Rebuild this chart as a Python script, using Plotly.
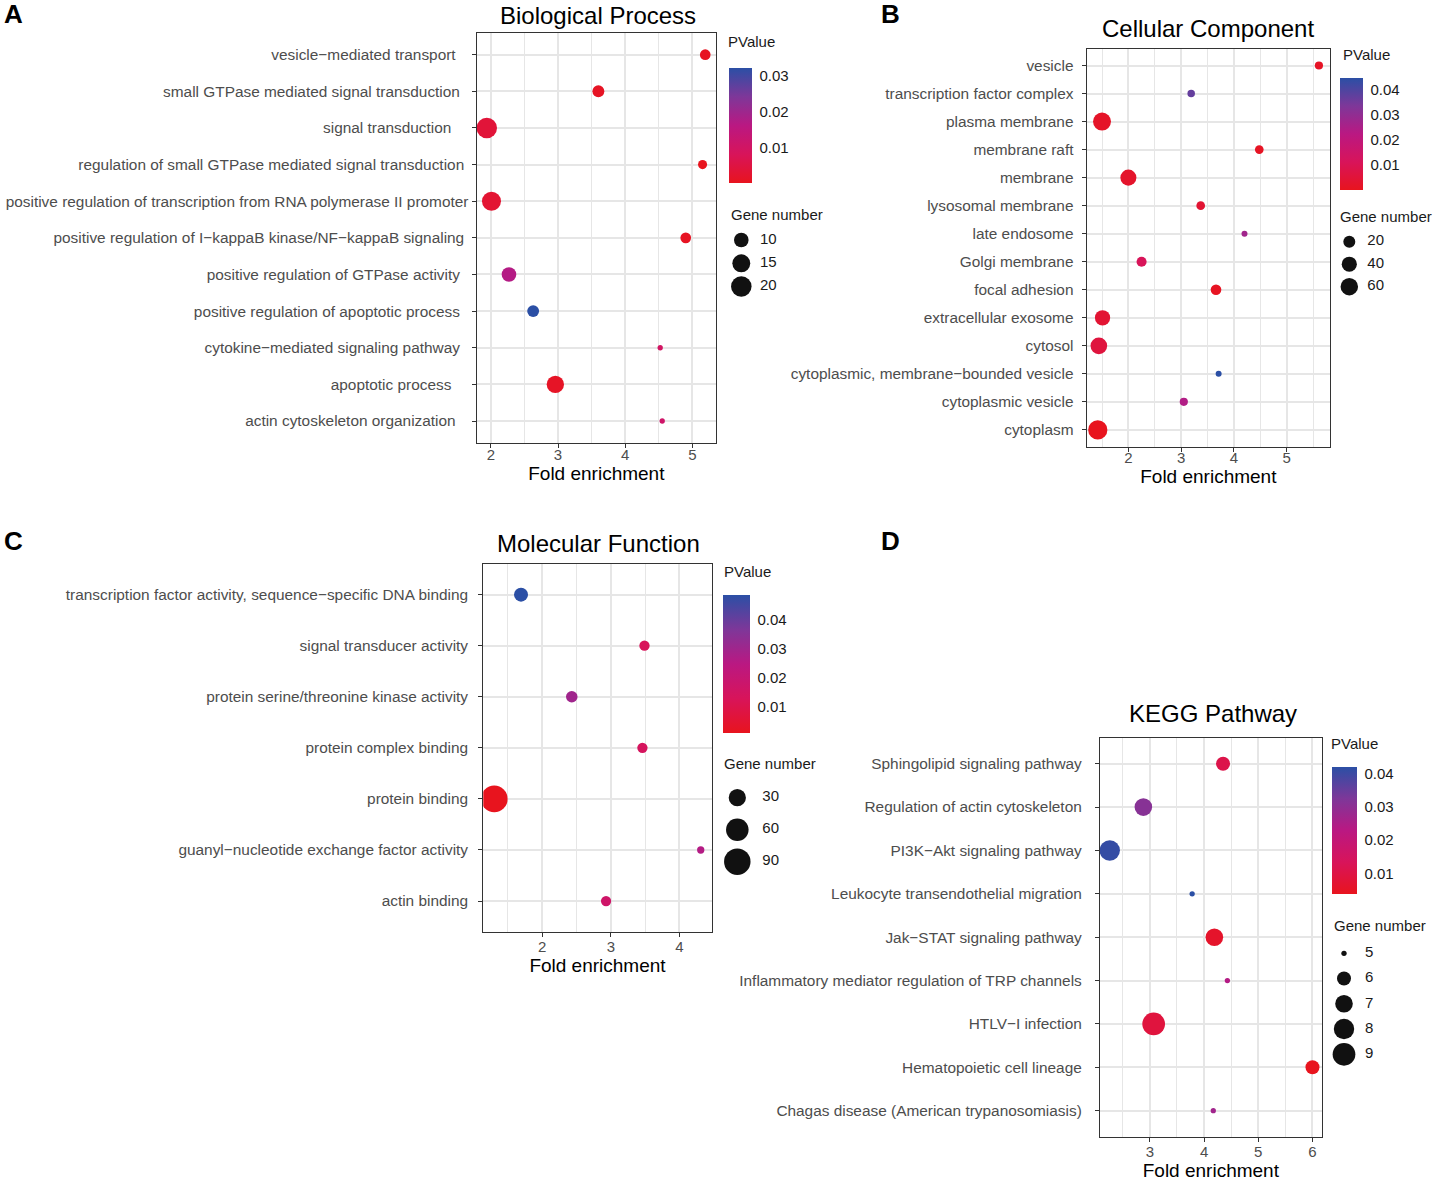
import numpy as np
import plotly.graph_objects as go

W, H = 1437, 1183
FONT = "Liberation Sans, Arial, Helvetica, sans-serif"

# ---------------- data ----------------
bp_terms = ["vesicle−mediated transport",
            "small GTPase mediated signal transduction",
            "signal transduction",
            "regulation of small GTPase mediated signal transduction",
            "positive regulation of transcription from RNA polymerase II promoter",
            "positive regulation of I−kappaB kinase/NF−kappaB signaling",
            "positive regulation of GTPase activity",
            "positive regulation of apoptotic process",
            "cytokine−mediated signaling pathway",
            "apoptotic process",
            "actin cytoskeleton organization"]
bp_fold = [5.19, 3.60, 1.94, 5.15, 2.01, 4.90, 2.27, 2.63, 4.52, 2.96, 4.55]
bp_genes = [6, 7, 20, 5, 17, 6, 10, 7, 4, 14, 4]
bp_pval = [0.0008, 0.0012, 0.004, 0.0004, 0.003, 0.001, 0.017, 0.0321, 0.010, 0.0015, 0.011]
bp_size_breaks = [10, 15, 20]
bp_color_ticks = [0.01, 0.02, 0.03]

cc_terms = ["vesicle", "transcription factor complex", "plasma membrane", "membrane raft",
            "membrane", "lysosomal membrane", "late endosome", "Golgi membrane",
            "focal adhesion", "extracellular exosome", "cytosol",
            "cytoplasmic, membrane−bounded vesicle", "cytoplasmic vesicle", "cytoplasm"]
cc_fold = [5.61, 3.19, 1.50, 4.48, 2.00, 3.37, 4.20, 2.25, 3.66, 1.51, 1.44, 3.71, 3.05, 1.42]
cc_genes = [7, 6, 65, 8, 47, 8, 5, 12, 14, 41, 53, 5, 7, 78]
cc_pval = [0.0015, 0.037, 0.002, 0.0012, 0.0025, 0.004, 0.027, 0.011, 0.001, 0.004,
           0.006, 0.0447, 0.024, 0.00005]
cc_size_breaks = [20, 40, 60]
cc_color_ticks = [0.01, 0.02, 0.03, 0.04]

mf_terms = ["transcription factor activity, sequence−specific DNA binding",
            "signal transducer activity",
            "protein serine/threonine kinase activity",
            "protein complex binding",
            "protein binding",
            "guanyl−nucleotide exchange factor activity",
            "actin binding"]
mf_fold = [1.69, 3.49, 2.43, 3.46, 1.30, 4.31, 2.93]
mf_genes = [18, 10, 12, 10, 92, 8, 10]
mf_pval = [0.0486, 0.013, 0.030, 0.014, 0.0011, 0.026, 0.017]
mf_size_breaks = [30, 60, 90]
mf_color_ticks = [0.01, 0.02, 0.03, 0.04]

kegg_terms = ["Sphingolipid signaling pathway",
              "Regulation of actin cytoskeleton",
              "PI3K−Akt signaling pathway",
              "Leukocyte transendothelial migration",
              "Jak−STAT signaling pathway",
              "Inflammatory mediator regulation of TRP channels",
              "HTLV−I infection",
              "Hematopoietic cell lineage",
              "Chagas disease (American trypanosomiasis)"]
kegg_fold = [4.35, 2.88, 2.26, 3.78, 4.19, 4.43, 3.07, 6.00, 4.17]
kegg_genes = [6, 7, 8, 5, 7, 5, 9, 6, 5]
kegg_pval = [0.011, 0.031, 0.041, 0.042, 0.006, 0.024, 0.009, 0.004, 0.027]
kegg_size_breaks = [5, 6, 7, 8, 9]
kegg_color_ticks = [0.01, 0.02, 0.03, 0.04]

# ---------------- helpers ----------------
def fx(px):
    return px / W

def fy(py):
    return 1 - py / H

def size_px(v, lo, hi, dmin, dmax):
    v = np.asarray(v, float)
    return dmin + (dmax - dmin) * np.sqrt(np.clip((v - lo) / (hi - lo), 0, 1))

colorscale = [[0.0, "#E8141E"], [0.25, "#D8145A"], [0.5, "#BA1882"],
              [0.75, "#7E3799"], [1.0, "#2B4FA5"]]

GRID = "#E6E6E6"

panels = [
    dict(letter="A", letter_xy=(2, 14), title="Biological Process", terms=bp_terms,
         pad=[3, 2, 4, 1, 0, 1, 2, 2, 2, 4, 3],
         fold=bp_fold, genes=bp_genes, pval=bp_pval, breaks=bp_size_breaks, cticks=bp_color_ticks,
         box=(476.7, 716, 32.7, 443), xr=(1.79, 5.35), dmin=5.3, dmax=20.5, title_xy=(598.3, 15.7),
         cbar=(729.3, 68, 115, 23), pv_xy=(726, 41.7), gn_xy=(729.3, 215),
         leg=(741.3, 760, 240, 23.3), standoff=0, xstand=-6, tstand=1),
    dict(letter="B", letter_xy=(879, 14), title="Cellular Component", terms=cc_terms,
         pad=[0] * len(cc_terms),
         fold=cc_fold, genes=cc_genes, pval=cc_pval, breaks=cc_size_breaks, cticks=cc_color_ticks,
         box=(1086.7, 1330, 48.7, 446.7), xr=(1.21, 5.82), dmin=6, dmax=19.2, title_xy=(1208.3, 28.3),
         cbar=(1340, 77.7, 112.3, 22.7), pv_xy=(1341, 54.3), gn_xy=(1338.3, 216.7),
         leg=(1349.3, 1367.3, 241.7, 22.5), standoff=5, xstand=-7, tstand=2),
    dict(letter="C", letter_xy=(2, 541), title="Molecular Function", terms=mf_terms,
         pad=[0] * len(mf_terms),
         fold=mf_fold, genes=mf_genes, pval=mf_pval, breaks=mf_size_breaks, cticks=mf_color_ticks,
         box=(483.3, 711.7, 564, 931.7), xr=(1.14, 4.47), dmin=7.3, dmax=26.7, title_xy=(598.3, 543.3),
         cbar=(723.3, 595, 138.3, 27), pv_xy=(722.3, 571.7), gn_xy=(721.7, 764),
         leg=(737.3, 762.3, 797.7, 32), standoff=7, xstand=-3, tstand=1),
    dict(letter="D", letter_xy=(879, 541), title="KEGG Pathway", terms=kegg_terms,
         pad=[0] * len(kegg_terms),
         fold=kegg_fold, genes=kegg_genes, pval=kegg_pval, breaks=kegg_size_breaks, cticks=kegg_color_ticks,
         box=(1100, 1321.7, 737.7, 1136.7), xr=(2.08, 6.17), dmin=5.3, dmax=22.7, title_xy=(1213, 713.3),
         cbar=(1331.7, 766.7, 126.7, 25), pv_xy=(1329.3, 743.3), gn_xy=(1331.7, 925),
         leg=(1344, 1365, 953.3, 25.25), standoff=10, xstand=-3, tstand=4),
]

fig = go.Figure()
layout = dict(width=W, height=H, margin=dict(l=0, r=0, t=0, b=0),
              paper_bgcolor="white", plot_bgcolor="rgba(0,0,0,0)", showlegend=False,
              font=dict(family=FONT, color="#1A1A1A"))
annotations = []

for i, p in enumerate(panels):
    k = i + 1
    sfx = "" if k == 1 else str(k)
    lk = k + 4
    labels = [t + "\u00a0" * n for t, n in zip(p["terms"], p["pad"])]
    lo, hi = min(p["genes"]), max(p["genes"])
    n = len(labels)
    x0, x1, y0, y1 = p["box"]

    fig.add_trace(go.Scatter(
        x=p["fold"], y=labels, mode="markers",
        marker=dict(size=size_px(p["genes"], lo, hi, p["dmin"], p["dmax"]),
                    color=p["pval"], coloraxis="coloraxis" + sfx,
                    line=dict(width=0), opacity=1),
        xaxis="x" + sfx, yaxis="y" + sfx, cliponaxis=True, hoverinfo="x+y"))

    layout["xaxis" + sfx] = dict(
        domain=[fx(x0), fx(x1)], range=list(p["xr"]), anchor="y" + sfx,
        showline=True, mirror=True, linecolor="#333333", linewidth=1.3,
        ticks="outside", ticklen=4, tickcolor="#333333", tickwidth=1,
        ticklabelstandoff=p["xstand"],
        tick0=0, dtick=1, tickfont=dict(size=15, color="#4D4D4D", family=FONT),
        showgrid=True, gridcolor=GRID, gridwidth=2, zeroline=False,
        minor=dict(dtick=0.5, showgrid=True, gridcolor=GRID, gridwidth=1.2, ticks=""),
        title=dict(text="Fold enrichment", font=dict(size=19, color="#000000", family=FONT),
                   standoff=p["tstand"]),
        fixedrange=True)
    layout["yaxis" + sfx] = dict(
        domain=[fy(y1), fy(y0)], type="category", categoryorder="array",
        categoryarray=labels, range=[n - 0.4, -0.6], anchor="x" + sfx,
        showline=True, mirror=True, linecolor="#333333", linewidth=1.3,
        ticks="outside", ticklen=4, tickcolor="#333333", tickwidth=1,
        ticklabelstandoff=p["standoff"],
        tickfont=dict(size=15.4, color="#4D4D4D", family=FONT),
        showgrid=True, gridcolor=GRID, gridwidth=2, zeroline=False,
        fixedrange=True)

    cx, ctop, clen, cthick = p["cbar"]
    layout["coloraxis" + sfx] = dict(
        colorscale=colorscale,
        colorbar=dict(x=fx(cx), xanchor="left", y=fy(ctop), yanchor="top",
                      len=clen, lenmode="pixels", thickness=cthick, thicknessmode="pixels",
                      xpad=0, ypad=0, outlinewidth=0, tickvals=p["cticks"], tickformat=".2f",
                      ticks="outside", ticklen=5, tickcolor="rgba(255,255,255,0)", tickwidth=1,
                      tickfont=dict(size=15, color="#1A1A1A", family=FONT)))

    # size legend on its own hidden axes
    lcx, llx, ly0, ldy = p["leg"]
    nb = len(p["breaks"])
    u = llx - lcx
    layout["xaxis%d" % lk] = dict(domain=[fx(lcx - 20), fx(llx + 40)],
                                  range=[-20 / u, (llx + 40 - lcx) / u], anchor="y%d" % lk,
                                  visible=False, fixedrange=True)
    top, bot = ly0 - 20, ly0 + (nb - 1) * ldy + 20
    layout["yaxis%d" % lk] = dict(domain=[fy(bot), fy(top)],
                                  range=[(nb - 1) + 20 / ldy, -20 / ldy], anchor="x%d" % lk,
                                  visible=False, fixedrange=True)
    fig.add_trace(go.Scatter(
        x=[0] * nb, y=list(range(nb)), mode="markers",
        marker=dict(size=size_px(p["breaks"], lo, hi, p["dmin"], p["dmax"]), color="#111111",
                    line=dict(width=0), opacity=1),
        xaxis="x%d" % lk, yaxis="y%d" % lk, cliponaxis=False, hoverinfo="skip"))
    fig.add_trace(go.Scatter(
        x=[1] * nb, y=list(range(nb)), mode="text", text=[str(b) for b in p["breaks"]],
        textposition="middle right", textfont=dict(size=15, color="#1A1A1A", family=FONT),
        xaxis="x%d" % lk, yaxis="y%d" % lk, cliponaxis=False, hoverinfo="skip"))

    tx, ty = p["title_xy"]
    annotations.append(dict(text=p["title"], x=fx(tx), y=fy(ty), xref="paper", yref="paper",
                            xanchor="center", yanchor="middle", showarrow=False,
                            font=dict(size=24, color="#000000", family=FONT)))
    annotations.append(dict(text="PValue", x=fx(p["pv_xy"][0]), y=fy(p["pv_xy"][1]),
                            xref="paper", yref="paper", xanchor="left", yanchor="middle",
                            showarrow=False, font=dict(size=15, color="#1A1A1A", family=FONT)))
    annotations.append(dict(text="Gene number", x=fx(p["gn_xy"][0]), y=fy(p["gn_xy"][1]),
                            xref="paper", yref="paper", xanchor="left", yanchor="middle",
                            showarrow=False, font=dict(size=15, color="#1A1A1A", family=FONT)))
    annotations.append(dict(text="<b>%s</b>" % p["letter"], x=fx(p["letter_xy"][0]),
                            y=fy(p["letter_xy"][1]), xref="paper", yref="paper",
                            xanchor="left", yanchor="middle", showarrow=False,
                            font=dict(size=26, color="#000000", family=FONT)))

layout["annotations"] = annotations
fig.update_layout(**layout)
fig.write_html("out.html", config={"displayModeBar": False},
               post_script="document.body.style.margin='0';")
